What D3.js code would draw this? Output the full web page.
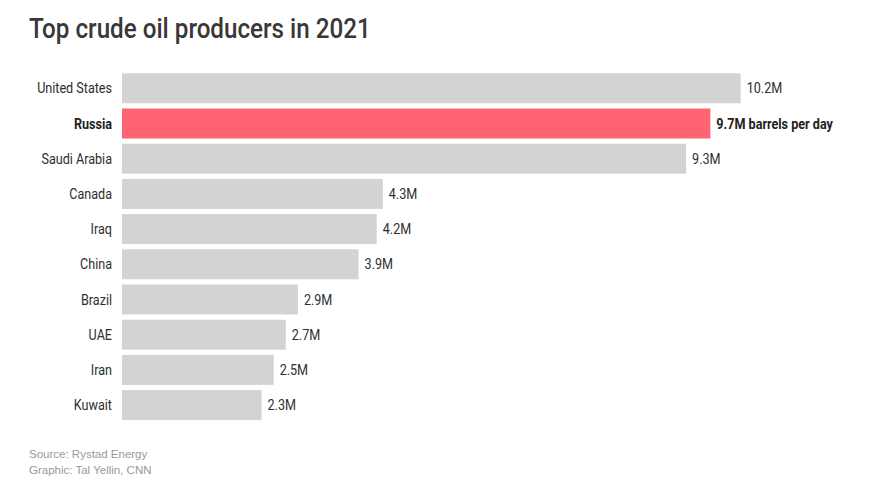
<!DOCTYPE html>
<html><head><meta charset="utf-8">
<script src="https://cdn.jsdelivr.net/npm/d3@7"></script>
<style>body{margin:0;background:#fff}</style>
</head><body>
<script>
const categories = ["United States","Russia","Saudi Arabia","Canada","Iraq","China","Brazil","UAE","Iran","Kuwait"];
const values = [10.2,9.7,9.3,4.3,4.2,3.9,2.9,2.7,2.5,2.3];
const valueLabels = ["10.2M","9.7M barrels per day","9.3M","4.3M","4.2M","3.9M","2.9M","2.7M","2.5M","2.3M"];
const highlight = "Russia";

const W = 870, H = 480;
const svg = d3.select("body").append("svg").attr("width", W).attr("height", H);
const cond = "Roboto, 'Noto Sans', sans-serif";
const sx = 0.88;

const x = d3.scaleLinear().domain([0, 10.2]).range([122, 740.7]);
const y = d3.scaleBand().domain(categories).range([73.3, 73.3 + 10 * 35.2]).padding(0);

function ctext(g, px, py, txt, opts) {
  return g.append("text")
    .attr("transform", `translate(${px},${py}) scale(${opts.sx||sx},1)`)
    .attr("text-anchor", opts.anchor || "start")
    .attr("font-family", cond)
    .attr("font-size", opts.size)
    .attr("font-weight", opts.weight || 400)
    .attr("fill", opts.fill || "#333")
    .text(txt);
}

ctext(svg, 29, 38, "Top crude oil producers in 2021", {size: 28, fill: "#383838", sx: 0.865, weight: 500});

const data = categories.map((c, i) => ({c, v: values[i], l: valueLabels[i]}));
const bw = 30;
svg.selectAll("rect.bar").data(data).enter().append("rect")
  .attr("class", "bar")
  .attr("x", x(0))
  .attr("y", d => y(d.c))
  .attr("width", d => x(d.v) - x(0))
  .attr("height", bw)
  .attr("fill", d => d.c === highlight ? "#ff6473" : "#d3d3d3");

data.forEach(d => {
  const cy = y(d.c) + bw / 2 + 5;
  const bold = d.c === highlight;
  ctext(svg, 112, cy, d.c, {size: 14, anchor: "end", weight: bold ? 700 : 400, fill: bold ? "#222" : "#2e2e2e", sx: 0.9});
  ctext(svg, x(d.v) + 6, cy, d.l, {size: 14, weight: bold ? 700 : 400, fill: bold ? "#222" : "#2e2e2e", sx: 0.9});
});

svg.append("text").attr("x", 29).attr("y", 458).attr("font-family", "'Liberation Sans', Arial, sans-serif")
  .attr("font-size", 11.5).attr("fill", "#999").text("Source: Rystad Energy");
svg.append("text").attr("x", 29).attr("y", 474).attr("font-family", "'Liberation Sans', Arial, sans-serif")
  .attr("font-size", 11.5).attr("fill", "#999").text("Graphic: Tal Yellin, CNN");
</script>
</body></html>
